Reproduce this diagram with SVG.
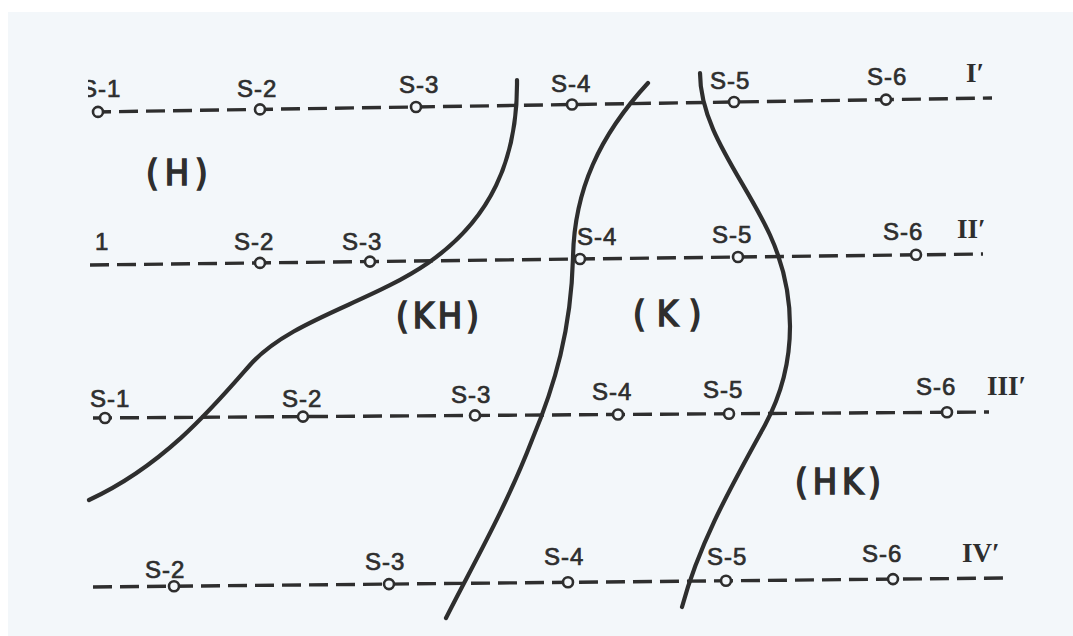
<svg xmlns="http://www.w3.org/2000/svg" width="1073" height="636" viewBox="0 0 1073 636">
<style>
.bg{fill:#f3f7fa}
.prof{fill:none;stroke:#2e2e2e;stroke-width:3.4;stroke-dasharray:19 8}
.pt{fill:#f3f7fa;stroke:#2e2e2e;stroke-width:2.6}
.curve{fill:none;stroke:#2e2e2e;stroke-width:4.2;stroke-linecap:round}
.lbl{font-family:"Liberation Sans",Arial,sans-serif;font-size:24px;fill:#2e2e2e;stroke:#2e2e2e;stroke-width:0.7px;letter-spacing:1px}
.rom{font-family:"Liberation Serif","Times New Roman",serif;font-size:27px;font-weight:bold;fill:#2e2e2e}
.zone{font-family:"DejaVu Sans Condensed","DejaVu Sans","Liberation Sans",sans-serif;font-stretch:condensed;font-size:36px;fill:#2e2e2e;stroke:#2e2e2e;stroke-width:1.6px}
</style>
<defs>
<clipPath id="cut1"><rect x="88" y="60" width="100" height="60"/></clipPath>
</defs>
<rect x="0" y="0" width="1073" height="636" fill="#ffffff"/>
<rect class="bg" x="8" y="12" width="1065" height="624"/>

<g id="connectors">
<path id="curve-H-KH" class="curve" d="M517,80 C518,160 490,220 428,263 C370,303 290,320 250,365 C215,405 165,465 89,500"/>
<path id="curve-KH-K" class="curve" d="M648,83 C600,135 574,190 573,258 C571,330 555,385 532,440 C505,510 470,570 446,618"/>
<path id="curve-K-HK" class="curve" d="M700,73 C700,130 745,180 770,235 C795,290 800,360 765,425 C735,480 700,540 682,607"/>
</g>

<g id="profile-I">
<path class="prof" d="M92,112 L992,98"/>
<circle class="pt" cx="98" cy="111.9" r="5"/>
<circle class="pt" cx="260" cy="109.4" r="5"/>
<circle class="pt" cx="416" cy="107" r="5"/>
<circle class="pt" cx="572" cy="104.5" r="5"/>
<circle class="pt" cx="734" cy="102" r="5"/>
<circle class="pt" cx="886" cy="99.6" r="5"/>
<text class="lbl" x="81" y="97" clip-path="url(#cut1)">S-1</text>
<text class="lbl" x="237" y="97">S-2</text>
<text class="lbl" x="399" y="93">S-3</text>
<text class="lbl" x="551" y="92">S-4</text>
<text class="lbl" x="710" y="89">S-5</text>
<text class="lbl" x="867" y="85">S-6</text>
<text class="rom" x="966" y="82">I′</text>
</g>

<g id="profile-II">
<path class="prof" d="M90,265 L983,254"/>
<circle class="pt" cx="260" cy="262.9" r="5"/>
<circle class="pt" cx="370" cy="261.6" r="5"/>
<circle class="pt" cx="580" cy="259" r="5"/>
<circle class="pt" cx="738" cy="257" r="5"/>
<circle class="pt" cx="916" cy="254.8" r="5"/>
<text class="lbl" x="95" y="250">1</text>
<text class="lbl" x="234" y="250">S-2</text>
<text class="lbl" x="342" y="250">S-3</text>
<text class="lbl" x="577" y="245">S-4</text>
<text class="lbl" x="712" y="243">S-5</text>
<text class="lbl" x="883" y="240">S-6</text>
<text class="rom" x="957" y="238">II′</text>
</g>

<g id="profile-III">
<path class="prof" d="M93,418 L989,412"/>
<circle class="pt" cx="105" cy="418" r="5"/>
<circle class="pt" cx="303" cy="416.6" r="5"/>
<circle class="pt" cx="475" cy="415.4" r="5"/>
<circle class="pt" cx="618" cy="414.5" r="5"/>
<circle class="pt" cx="729" cy="413.7" r="5"/>
<circle class="pt" cx="947" cy="412.3" r="5"/>
<text class="lbl" x="90" y="407">S-1</text>
<text class="lbl" x="282" y="407">S-2</text>
<text class="lbl" x="451" y="403">S-3</text>
<text class="lbl" x="592" y="400">S-4</text>
<text class="lbl" x="703" y="398">S-5</text>
<text class="lbl" x="916" y="395">S-6</text>
<text class="rom" x="987" y="395">III′</text>
</g>

<g id="profile-IV">
<path class="prof" d="M93,587 L1009,578"/>
<circle class="pt" cx="174" cy="586.2" r="5"/>
<circle class="pt" cx="389" cy="584.1" r="5"/>
<circle class="pt" cx="568" cy="582.3" r="5"/>
<circle class="pt" cx="726" cy="580.8" r="5"/>
<circle class="pt" cx="893" cy="579.1" r="5"/>
<text class="lbl" x="145" y="578">S-2</text>
<text class="lbl" x="365" y="570">S-3</text>
<text class="lbl" x="544" y="565">S-4</text>
<text class="lbl" x="707" y="565">S-5</text>
<text class="lbl" x="862" y="562">S-6</text>
<text class="rom" x="962" y="562">IV′</text>
</g>

<g id="zone-H"><text class="zone" x="146" y="185" letter-spacing="6">(H)</text></g>
<g id="zone-KH"><text class="zone" x="396" y="328" letter-spacing="4">(KH)</text></g>
<g id="zone-K"><text class="zone" x="633" y="326" letter-spacing="11">(K)</text></g>
<g id="zone-HK"><text class="zone" x="795" y="494" letter-spacing="5">(HK)</text></g>
</svg>
